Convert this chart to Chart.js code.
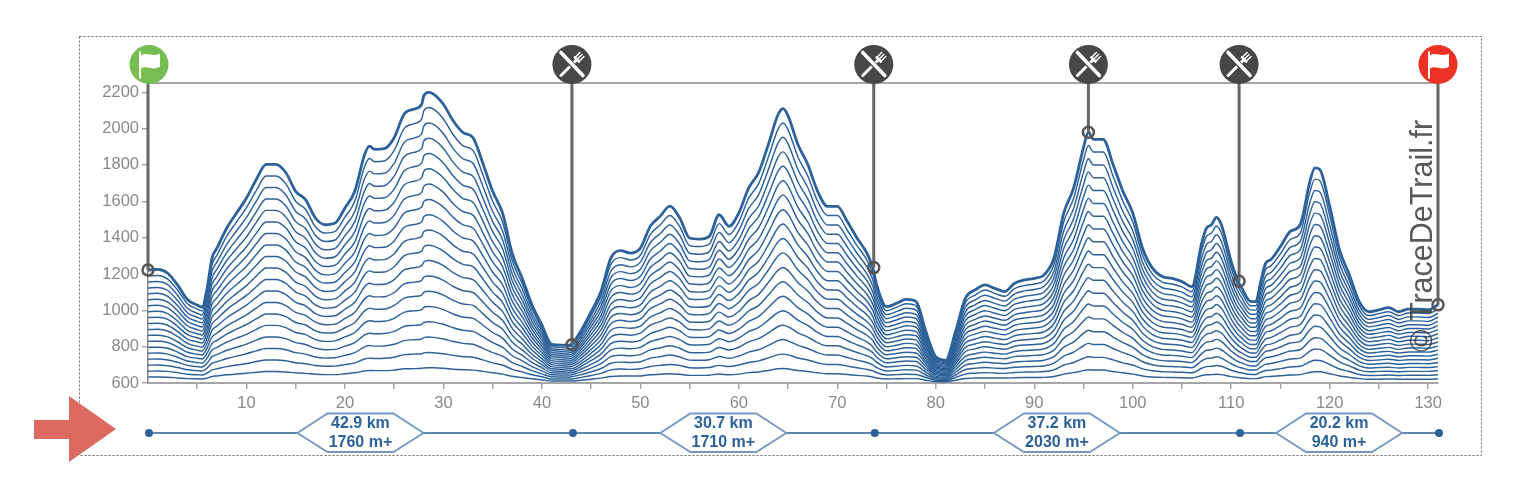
<!DOCTYPE html>
<html><head><meta charset="utf-8">
<style>html,body{margin:0;padding:0;background:#fff}canvas{display:block;filter:blur(.35px)}</style>
<script src="https://cdn.jsdelivr.net/npm/chart.js@4/dist/chart.umd.min.js"></script>
</head><body><canvas id="c" width="1540" height="498"></canvas>
<script>
// Distance (km) shared by all lines; elevations (m), one array per drawn line, lowest first.
const km=[0,1,2,3,4,5,5.5,6,6.5,7,8,9,10,11,12,13,14,15,16,17,18,19,20,21,22,22.5,23,24,25,26,27,27.8,28,28.5,29,30,31,32,33,34,35,36,37,38,39,40,41,42,42.9,43,44,45,46,47,48,49,50,51,52,53,54,55,56,57,58,59,60,61,62,63,64,64.5,65,66,67,68,69,70,71,72,73,73.6,74,75,76,77,78,79,80,81,82,83,84,85,86,87,88,89,90,91,92,93,94,95,95.5,96,97,98,99,100,101,102,103,104,105,106,107,107.5,108,108.5,109,110,110.7,111,112,112.5,113,113.5,114,115,116,117,118,118.5,119,120,121,122,123,124,125,126,127,128,129,130,131];
const line01=[633,633,632,628,624,623,622,627,636,639,645,649,654,659,663,663,661,656,653,648,646,646,651,656,666,669,668,668,671,678,679,681,683,684,684,681,676,673,671,664,656,649,637,630,623,617,611,611,611,611,615,621,627,636,638,638,639,645,648,651,648,642,642,643,649,645,649,657,661,669,678,680,677,669,663,656,651,651,647,642,638,633,628,622,623,624,624,615,608,607,615,625,627,628,627,627,629,630,630,631,636,649,657,668,673,671,671,663,656,649,639,633,631,630,629,628,641,645,646,648,646,635,630,628,624,624,629,635,636,640,644,646,659,662,662,651,639,631,624,621,621,622,621,621,621,621,623];
const line02=[665,666,664,657,648,645,644,655,672,678,690,699,707,718,727,727,722,711,706,696,692,693,701,711,732,737,735,736,742,756,759,761,766,768,767,761,752,745,742,727,711,699,675,661,645,634,622,622,622,622,631,641,653,672,677,675,678,691,697,702,696,684,683,685,697,691,699,713,722,738,756,759,755,738,727,711,702,702,694,684,675,667,657,644,646,648,647,630,615,613,630,649,654,657,655,653,658,660,661,663,672,699,713,736,745,741,741,727,711,699,678,667,662,661,659,656,681,690,692,696,692,670,659,656,647,647,659,669,671,679,688,692,717,725,724,702,677,663,647,641,642,644,641,643,643,642,645];
const line03=[698,699,695,685,673,668,666,682,709,717,735,748,761,777,790,790,783,767,759,743,737,739,752,767,799,806,803,804,813,833,838,842,850,853,851,842,828,818,813,791,767,748,712,691,668,650,634,633,633,634,646,662,680,709,715,713,717,736,745,754,743,726,725,728,746,736,748,770,783,807,833,839,832,807,790,767,754,754,740,726,713,700,685,666,669,673,671,644,623,620,644,674,681,685,682,680,687,689,691,694,709,748,770,805,818,812,812,790,767,748,717,700,692,691,688,684,722,735,737,744,737,706,689,684,671,671,688,704,707,719,732,737,776,787,785,754,716,694,671,662,664,665,662,664,664,664,668];
const line04=[731,732,727,714,697,690,688,710,745,756,780,797,814,836,853,853,844,822,812,791,783,785,803,822,865,874,871,872,884,911,917,923,933,937,935,923,904,890,884,855,822,797,750,722,690,667,645,644,644,645,661,682,706,745,753,750,756,782,793,805,791,768,767,770,795,782,797,826,844,876,911,918,910,876,853,822,805,805,787,768,750,734,714,688,692,697,694,659,630,626,659,698,708,714,710,706,716,719,721,725,745,797,826,873,890,882,882,853,822,797,756,733,723,721,718,712,762,780,783,792,783,741,718,712,694,694,718,739,743,758,776,783,834,849,847,805,754,725,694,682,685,687,682,686,686,685,690];
const line05=[764,765,759,742,721,713,710,737,781,796,825,847,868,895,917,917,905,878,866,839,829,832,854,878,931,943,939,940,956,989,997,1004,1016,1021,1019,1004,980,963,956,919,878,847,787,752,713,684,656,655,656,656,677,703,733,781,792,788,796,827,842,856,839,810,809,813,844,827,847,883,905,946,989,998,987,946,917,878,856,856,834,810,788,767,742,711,716,721,718,674,638,633,674,723,735,742,737,733,745,749,752,757,781,847,883,941,963,953,953,917,878,847,796,767,754,752,747,740,803,825,829,840,829,776,748,740,718,718,747,774,779,798,820,829,893,912,909,856,793,757,718,703,706,709,703,707,707,706,713];
const line06=[796,797,791,770,745,736,732,764,817,835,869,896,922,953,980,980,965,933,919,887,875,878,904,933,997,1012,1006,1007,1027,1067,1076,1084,1099,1105,1102,1084,1055,1035,1027,982,933,896,824,782,736,701,667,665,667,667,692,724,759,817,830,826,835,872,890,907,887,852,850,855,892,872,896,939,965,1015,1067,1077,1064,1015,980,933,907,907,881,852,826,800,770,733,739,745,742,689,646,640,689,747,761,770,764,759,773,779,782,788,817,896,939,1009,1035,1024,1024,980,933,896,835,800,785,782,776,767,843,869,875,888,875,811,777,767,742,742,776,808,814,837,863,875,951,974,971,907,832,788,742,724,727,731,724,728,728,727,736];
const line07=[829,830,823,799,769,758,754,792,853,874,914,945,975,1012,1043,1043,1026,989,972,935,921,924,955,989,1063,1080,1074,1075,1098,1145,1155,1165,1182,1189,1186,1165,1131,1108,1098,1046,989,945,862,813,758,718,678,676,678,678,707,744,786,853,868,863,874,918,938,958,935,894,892,898,941,918,945,996,1026,1084,1145,1157,1142,1084,1043,989,958,958,928,894,863,834,799,755,762,769,765,704,653,646,704,772,788,799,792,786,802,809,812,819,853,945,996,1077,1108,1094,1094,1043,989,945,874,833,816,812,806,795,884,914,921,936,921,846,807,795,765,765,806,843,850,877,907,921,1010,1036,1033,958,870,819,765,744,748,753,744,750,750,748,758];
const line08=[862,863,854,827,794,781,776,819,890,913,959,994,1029,1071,1106,1106,1087,1044,1025,982,966,970,1006,1044,1130,1149,1142,1143,1169,1222,1234,1246,1266,1274,1270,1246,1207,1180,1169,1110,1044,994,899,843,781,734,690,687,689,690,722,765,812,890,906,901,913,963,986,1010,982,936,934,940,990,963,994,1052,1087,1153,1222,1236,1219,1153,1106,1044,1010,1010,974,936,901,867,827,777,785,794,789,718,661,653,718,796,815,827,819,812,831,838,842,850,890,994,1052,1146,1180,1165,1165,1106,1044,994,913,866,846,842,835,823,924,959,966,984,966,882,836,823,789,789,835,878,886,916,951,966,1068,1098,1094,1010,909,850,789,765,770,774,765,771,771,770,781];
const line09=[894,896,886,856,818,803,798,847,926,952,1004,1044,1082,1130,1170,1170,1148,1100,1078,1030,1012,1017,1056,1100,1196,1217,1209,1211,1240,1300,1314,1326,1349,1358,1353,1326,1283,1253,1240,1173,1100,1044,937,874,803,751,701,698,700,701,738,785,839,926,945,938,952,1009,1035,1061,1030,978,975,983,1038,1009,1044,1109,1148,1222,1300,1316,1297,1222,1170,1100,1061,1061,1021,978,938,901,856,799,808,818,812,733,668,659,733,820,842,856,847,839,860,868,873,882,926,1044,1109,1214,1253,1235,1235,1170,1100,1044,952,900,877,873,865,851,965,1004,1012,1032,1012,917,866,851,812,812,865,912,921,956,995,1012,1127,1161,1156,1061,947,882,812,785,791,796,785,793,793,791,803];
const line10=[927,929,918,884,842,826,820,874,962,991,1049,1093,1136,1189,1233,1233,1209,1155,1131,1078,1058,1063,1107,1155,1262,1286,1277,1279,1311,1378,1393,1407,1432,1442,1437,1407,1359,1325,1311,1237,1155,1093,974,904,826,768,712,709,711,712,753,806,865,962,983,976,991,1054,1083,1112,1078,1020,1017,1025,1087,1054,1093,1165,1209,1291,1378,1395,1374,1291,1233,1155,1112,1112,1068,1020,976,934,884,821,831,842,836,748,676,666,748,845,869,884,874,865,889,898,903,913,962,1093,1165,1282,1326,1306,1306,1233,1155,1093,991,933,908,903,894,879,1005,1049,1058,1080,1058,952,895,879,836,836,894,947,957,995,1039,1058,1185,1223,1218,1112,986,913,836,806,812,818,806,814,814,812,826];
const line11=[960,962,950,912,866,849,842,901,998,1030,1094,1142,1190,1248,1296,1296,1270,1211,1184,1126,1104,1109,1158,1211,1328,1355,1345,1347,1382,1456,1472,1488,1515,1526,1521,1488,1435,1398,1382,1301,1211,1142,1011,934,849,785,723,720,722,723,768,827,892,998,1021,1014,1030,1099,1131,1163,1126,1062,1059,1068,1136,1099,1142,1222,1270,1360,1456,1475,1451,1360,1296,1211,1163,1163,1115,1062,1014,967,912,843,854,866,860,763,684,673,763,870,896,912,901,892,918,928,933,944,998,1142,1222,1350,1399,1377,1377,1296,1211,1142,1030,966,939,933,923,907,1046,1094,1104,1128,1104,987,925,907,860,860,923,982,993,1035,1083,1104,1244,1285,1280,1163,1025,944,860,827,833,840,827,835,835,833,849];
const line12=[992,995,982,941,890,871,864,929,1034,1069,1139,1192,1243,1307,1360,1360,1331,1266,1237,1174,1150,1156,1208,1266,1394,1423,1412,1415,1453,1534,1552,1568,1598,1610,1604,1568,1511,1470,1453,1364,1266,1192,1049,965,871,802,734,731,733,734,784,847,918,1034,1060,1051,1069,1145,1180,1214,1174,1104,1100,1110,1184,1145,1192,1278,1331,1429,1534,1554,1529,1429,1360,1266,1214,1214,1162,1104,1051,1001,941,865,877,890,883,778,691,679,778,894,923,941,929,918,947,958,964,976,1034,1192,1278,1418,1471,1447,1447,1360,1266,1192,1069,1000,970,964,953,935,1086,1139,1150,1176,1150,1022,954,935,883,883,953,1016,1028,1074,1127,1150,1302,1348,1342,1214,1063,976,883,847,854,862,847,857,857,854,871];
const line13=[1025,1028,1013,969,915,894,886,956,1071,1108,1184,1241,1297,1366,1423,1423,1392,1322,1290,1221,1195,1202,1259,1322,1461,1492,1480,1483,1524,1611,1631,1649,1682,1695,1688,1649,1587,1543,1524,1428,1322,1241,1086,995,894,818,746,742,744,746,799,868,945,1071,1098,1089,1108,1190,1228,1266,1221,1146,1142,1153,1233,1190,1241,1335,1392,1498,1611,1634,1606,1498,1423,1322,1266,1266,1208,1146,1089,1034,969,887,900,915,907,792,699,686,792,919,950,969,956,945,976,987,994,1007,1071,1241,1335,1487,1544,1518,1518,1423,1322,1241,1108,1033,1000,994,982,963,1127,1184,1195,1224,1195,1058,984,963,907,907,982,1051,1064,1114,1171,1195,1361,1410,1403,1266,1102,1007,907,868,876,883,868,878,878,876,894];
const line14=[1058,1061,1045,998,939,916,908,984,1107,1147,1229,1290,1350,1425,1486,1486,1453,1377,1343,1269,1241,1248,1310,1377,1527,1560,1548,1551,1595,1689,1710,1730,1765,1779,1772,1730,1663,1615,1595,1492,1377,1290,1124,1026,916,835,757,753,755,757,814,888,971,1107,1136,1126,1147,1236,1276,1317,1269,1188,1184,1195,1282,1236,1290,1391,1453,1567,1689,1713,1684,1567,1486,1377,1317,1317,1255,1188,1126,1068,998,909,923,939,930,807,706,692,807,943,977,998,984,971,1005,1017,1024,1038,1107,1290,1391,1555,1616,1588,1588,1486,1377,1290,1147,1066,1031,1024,1012,991,1167,1229,1241,1272,1241,1093,1013,991,930,930,1012,1086,1100,1153,1215,1241,1419,1472,1465,1317,1140,1038,930,888,897,905,888,900,900,897,916];
const line15=[1091,1094,1077,1026,963,939,930,1011,1143,1187,1274,1340,1404,1484,1550,1550,1514,1433,1397,1317,1287,1295,1361,1433,1593,1629,1616,1619,1667,1767,1790,1811,1848,1863,1856,1811,1739,1688,1667,1556,1433,1340,1161,1056,939,852,768,764,767,768,830,909,998,1143,1175,1164,1187,1281,1325,1368,1317,1230,1226,1238,1331,1281,1340,1448,1514,1637,1767,1793,1761,1637,1550,1433,1368,1368,1302,1230,1164,1101,1026,932,947,963,954,822,714,699,822,968,1004,1026,1011,998,1034,1047,1055,1070,1143,1340,1448,1623,1689,1659,1659,1550,1433,1340,1187,1100,1062,1055,1041,1019,1208,1274,1287,1320,1287,1128,1043,1019,954,954,1041,1121,1136,1193,1259,1287,1478,1535,1527,1368,1179,1070,954,909,918,927,909,921,921,918,939];
const line16=[1123,1126,1109,1054,987,962,952,1038,1179,1226,1318,1389,1458,1542,1613,1613,1574,1488,1450,1365,1333,1341,1411,1488,1659,1698,1683,1686,1738,1845,1869,1891,1931,1947,1939,1891,1814,1760,1738,1619,1488,1389,1198,1086,962,869,779,775,777,779,845,930,1024,1179,1213,1202,1226,1326,1373,1419,1365,1272,1267,1280,1379,1326,1389,1504,1574,1706,1845,1872,1838,1706,1613,1488,1419,1419,1349,1272,1202,1134,1054,954,970,987,978,837,722,706,837,992,1030,1054,1038,1024,1062,1077,1085,1101,1179,1389,1504,1691,1762,1730,1730,1613,1488,1389,1226,1133,1093,1085,1070,1046,1248,1318,1333,1368,1333,1163,1072,1046,978,978,1070,1155,1171,1232,1302,1333,1536,1597,1589,1419,1218,1101,978,930,939,949,930,942,942,939,962];
const line17=[1156,1159,1141,1083,1011,984,974,1066,1215,1265,1363,1438,1511,1601,1676,1676,1635,1544,1503,1413,1379,1387,1462,1544,1725,1766,1751,1754,1809,1923,1948,1972,2014,2031,2023,1972,1890,1833,1809,1683,1544,1438,1236,1117,984,886,790,785,789,790,860,950,1051,1215,1251,1239,1265,1372,1421,1470,1413,1314,1309,1323,1428,1372,1438,1561,1635,1775,1923,1952,1916,1775,1676,1544,1470,1470,1396,1314,1239,1168,1083,976,993,1011,1001,852,729,712,852,1017,1057,1083,1066,1051,1091,1107,1115,1132,1215,1438,1561,1759,1834,1800,1800,1676,1544,1438,1265,1166,1124,1115,1100,1074,1289,1363,1379,1416,1379,1198,1102,1074,1001,1001,1100,1190,1207,1272,1346,1379,1595,1659,1651,1470,1256,1132,1001,950,960,971,950,964,964,960,984];
const line18=[1189,1192,1172,1112,1036,1007,996,1093,1252,1303,1408,1487,1565,1660,1739,1739,1696,1600,1556,1460,1425,1434,1513,1600,1792,1835,1818,1822,1880,2000,2027,2053,2097,2116,2107,2053,1966,1905,1880,1747,1600,1487,1273,1147,1007,902,802,796,800,802,875,971,1077,1252,1290,1277,1303,1417,1469,1522,1460,1356,1351,1365,1477,1417,1487,1617,1696,1844,2000,2031,1993,1844,1739,1600,1522,1522,1442,1356,1277,1201,1112,998,1016,1036,1025,866,737,719,866,1041,1084,1112,1093,1077,1120,1136,1145,1163,1252,1487,1617,1827,1907,1871,1871,1739,1600,1487,1303,1199,1155,1145,1129,1102,1330,1408,1425,1464,1425,1233,1131,1102,1025,1025,1129,1225,1243,1311,1390,1425,1653,1722,1713,1522,1295,1163,1025,971,982,992,971,985,985,982,1007];
const line19=[1222,1225,1204,1140,1060,1029,1018,1121,1287,1342,1453,1536,1618,1720,1803,1803,1757,1655,1609,1508,1471,1480,1563,1655,1858,1904,1886,1890,1950,2079,2107,2134,2180,2199,2190,2134,2042,1978,1950,1810,1655,1536,1310,1177,1029,919,812,808,810,812,891,992,1103,1287,1328,1315,1342,1462,1517,1573,1508,1398,1392,1407,1526,1462,1536,1674,1757,1913,2079,2110,2070,1913,1803,1655,1572,1572,1490,1398,1315,1235,1140,1020,1038,1060,1048,882,744,725,882,1066,1112,1140,1121,1103,1149,1167,1176,1195,1287,1536,1674,1895,1980,1941,1941,1803,1655,1536,1342,1232,1186,1176,1158,1130,1370,1453,1471,1512,1471,1268,1160,1130,1048,1048,1158,1259,1278,1351,1434,1471,1711,1784,1775,1573,1333,1195,1048,992,1002,1015,992,1007,1007,1002,1030];
const lines=[line19,line18,line17,line16,line15,line14,line13,line12,line11,line10,line09,line08,line07,line06,line05,line04,line03,line02,line01];
const xTicks=[5,10,15,20,25,30,35,40,45,50,55,60,65,70,75,80,85,90,95,100,105,110,115,120,125,130];
const xLabelled=[10,20,30,40,50,60,70,80,90,100,110,120,130];
const yTicks=[600,800,1000,1200,1400,1600,1800,2000,2200];
const topElev=2251;
const pinKm=[0,43.05,73.7,95.5,110.8,131];
const pinElev=[1222,810,1235,1980,1160,1030];
const pinType=["start","food","food","food","food","finish"];
const legKm=[42.9,30.7,37.2,20.2];
const legGain=[1760,1710,2030,940];
const legStart=[0,43.05,73.7,110.8];
const legEnd=[43.05,73.7,110.8,131];

const BLUE="#2c6199",FONT='"Liberation Sans",Arial,sans-serif';
function flag(g,x,y){
  g.fillStyle="#fff";g.fillRect(x-10,y-13,2,27);
  g.beginPath();g.moveTo(x-8,y-9);g.bezierCurveTo(x-3,y-13,x+4,y-7,x+11,y-11);
  g.lineTo(x+11,y+2);g.bezierCurveTo(x+4,y+7,x-3,y,x-8,y+4);g.closePath();g.fill();
}
function cutlery(g,x,y){
  g.strokeStyle="#fff";g.lineCap="round";
  g.lineWidth=3;g.beginPath();g.moveTo(x-11,y+11);g.lineTo(x+5,y-5);g.stroke();
  g.lineWidth=1.5;
  [[3,-7,8,-12],[5,-5,10,-10],[7,-3,12,-8]].forEach(s=>{g.beginPath();g.moveTo(x+s[0],y+s[1]);g.lineTo(x+s[2],y+s[3]);g.stroke();});
  g.lineWidth=2.6;g.beginPath();g.moveTo(x+3,y-7);g.lineTo(x+7,y-3);g.stroke();
  g.strokeStyle="#474747";g.lineWidth=5.5;g.lineCap="butt";g.beginPath();g.moveTo(x-3,y-3);g.lineTo(x+3,y+3);g.stroke();
  g.strokeStyle="#fff";g.lineWidth=3.6;g.lineCap="round";g.beginPath();g.moveTo(x-11,y-12);g.lineTo(x+11,y+11);g.stroke();
  g.lineCap="butt";
}
const deco={id:"deco",
  beforeDraw(c){const g=c.ctx;g.save();
    g.fillStyle="#fff";g.fillRect(0,0,1540,498);
    g.strokeStyle="#666";g.lineWidth=1;g.setLineDash([2,2]);g.strokeRect(79.5,36.5,1402,419);g.setLineDash([]);
    g.fillStyle="#dc6a61";g.beginPath();
    [[34,420],[69,420],[69,396],[116,429],[69,462],[69,439],[34,439]].forEach((p,i)=>i?g.lineTo(p[0],p[1]):g.moveTo(p[0],p[1]));
    g.closePath();g.fill();g.restore();},
  afterDraw(c){const g=c.ctx,X=c.scales.x;g.save();
    g.save();g.translate(1432,352);g.rotate(-Math.PI/2);g.fillStyle="rgba(65,65,65,.88)";g.font="30.5px "+FONT;g.textAlign="left";g.textBaseline="alphabetic";g.fillText("© TraceDeTrail.fr",0,0);g.restore();
    pinKm.forEach((k,i)=>{const x=X.getPixelForValue(k)+(i?0:1),y=64.5,t=pinType[i];
      g.fillStyle=t==="start"?"#76bd52":t==="finish"?"#ec3224":"#474747";
      g.beginPath();g.arc(x,y,19.5,0,Math.PI*2);g.fill();
      t==="food"?cutlery(g,x,y):flag(g,x,y);});
    const yL=433;
    g.strokeStyle=BLUE;g.lineWidth=1.5;g.beginPath();g.moveTo(X.getPixelForValue(0),yL);g.lineTo(X.getPixelForValue(131),yL);g.stroke();
    g.fillStyle=BLUE;
    [...legStart,131].forEach(k=>{g.beginPath();g.arc(X.getPixelForValue(k)+1,yL,4,0,Math.PI*2);g.fill();});
    legKm.forEach((d,i)=>{const m=X.getPixelForValue((legStart[i]+legEnd[i])/2)+.5;
      g.fillStyle="#fff";g.strokeStyle="#7398c4";g.lineWidth=1.8;g.beginPath();
      g.moveTo(m-63,yL);g.lineTo(m-33,413.5);g.lineTo(m+33,413.5);g.lineTo(m+63,yL);g.lineTo(m+33,452);g.lineTo(m-33,452);g.closePath();g.fill();g.stroke();
      g.fillStyle=BLUE;g.font="bold 16px "+FONT;g.textAlign="center";g.textBaseline="middle";
      g.fillText(d.toFixed(1)+" km",m,424);g.fillText(legGain[i]+" m+",m,443);});
    g.restore();}
};
const data=[];
data.push({data:pinKm.flatMap((k,i)=>[{x:k,y:pinElev[i]},{x:k,y:topElev},{x:NaN,y:NaN}]),borderColor:"#666",borderWidth:3,
  pointRadius:pinKm.flatMap(()=>[5.5,0,0]),pointBackgroundColor:"rgba(0,0,0,0)",pointBorderColor:"#555",pointBorderWidth:2.5,clip:false,spanGaps:false});
data.push({data:[{x:0,y:topElev},{x:131,y:topElev}],borderColor:"#a6a6a6",borderWidth:2.2,pointRadius:0,clip:false});
lines.forEach((l,i)=>data.push({data:l.map((v,j)=>({x:km[j],y:v})),borderColor:BLUE,borderWidth:i===0?2.8:1.45,pointRadius:0,cubicInterpolationMode:"monotone",clip:false,borderJoinStyle:"round"}));
new Chart(document.getElementById("c"),{type:"line",data:{datasets:data},plugins:[deco],
  options:{responsive:false,animation:false,events:[],layout:{padding:{left:0,right:102,top:83,bottom:0}},
    plugins:{legend:{display:false},tooltip:{enabled:false}},
    scales:{
      x:{type:"linear",min:0,max:131,afterFit(s){s.height=115;},afterBuildTicks(s){s.ticks=xTicks.map(v=>({value:v}));},
        border:{color:"#a6a6a6",width:2},grid:{drawOnChartArea:false,color:"#a6a6a6",tickLength:6,lineWidth:1.5},
        ticks:{autoSkip:false,maxRotation:0,padding:5,color:"#8a8a8a",font:{family:FONT,size:16.5},callback:v=>xLabelled.includes(v)?String(v):""}},
      y:{type:"linear",min:600,max:topElev,afterFit(s){s.width=148;},afterBuildTicks(s){s.ticks=yTicks.map(v=>({value:v}));},
        border:{color:"#8a8a8a",width:1.5},grid:{drawOnChartArea:false,color:"#a6a6a6",tickLength:6,lineWidth:1.5},
        ticks:{autoSkip:false,padding:3,color:"#8a8a8a",font:{family:FONT,size:16.5},callback:v=>String(v)}}
    }}});
</script></body></html>
